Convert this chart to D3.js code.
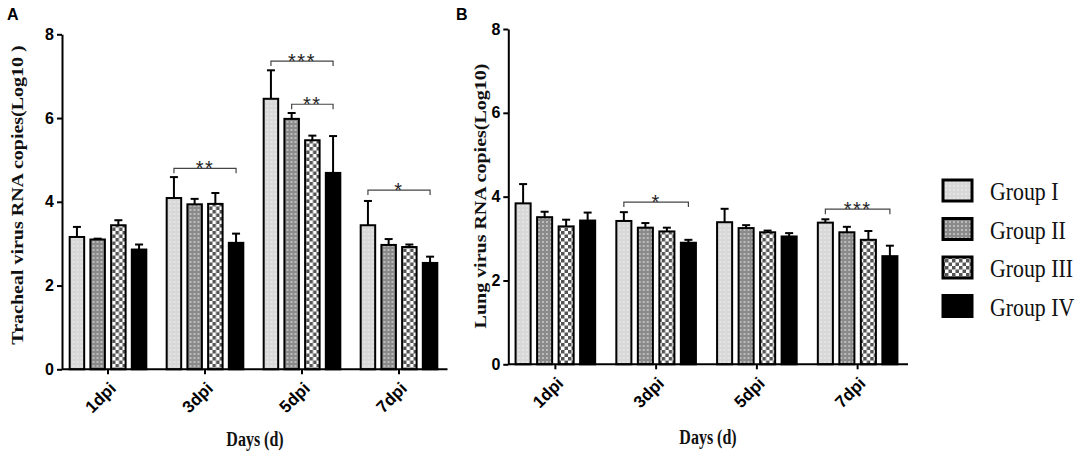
<!DOCTYPE html>
<html><head><meta charset="utf-8">
<script src="https://cdn.jsdelivr.net/npm/d3@7"></script>
<style>
body{margin:0;background:#fff;}
svg{display:block;}
</style></head>
<body>
<svg id="chart" width="1084" height="456"></svg>
<script>
const categories = ["1dpi","3dpi","5dpi","7dpi"];
const groups = ["Group I","Group II","Group III","Group IV"];
const yTicks = [0,2,4,6,8];

// means per category (rows) per group (cols)
const trachealMean = [
  [3.16,3.10,3.44,2.86],
  [4.09,3.94,3.95,3.02],
  [6.46,5.98,5.47,4.69],
  [3.44,2.97,2.92,2.54]
];
const trachealSD = [
  [0.24,0.02,0.12,0.12],
  [0.50,0.13,0.26,0.22],
  [0.68,0.14,0.11,0.88],
  [0.58,0.14,0.06,0.15]
];
const lungMean = [
  [3.84,3.51,3.29,3.43],
  [3.42,3.26,3.17,2.90],
  [3.39,3.25,3.15,3.05],
  [3.38,3.15,2.97,2.58]
];
const lungSD = [
  [0.46,0.13,0.16,0.19],
  [0.21,0.11,0.09,0.07],
  [0.32,0.07,0.04,0.08],
  [0.08,0.13,0.21,0.25]
];
const trachealSig = [
  {cat:"3dpi", from:0, to:3, y:4.80, label:"**"},
  {cat:"5dpi", from:0, to:3, y:7.36, label:"***"},
  {cat:"5dpi", from:1, to:3, y:6.33, label:"**"},
  {cat:"7dpi", from:0, to:3, y:4.28, label:"*"}
];
const lungSig = [
  {cat:"3dpi", from:0, to:3, y:3.87, label:"*"},
  {cat:"7dpi", from:0, to:3, y:3.70, label:"***"}
];

const svg = d3.select("#chart");
const defs = svg.append("defs");

// patterns
const p1 = defs.append("pattern").attr("id","pat0").attr("patternUnits","userSpaceOnUse").attr("width",4).attr("height",4);
p1.append("rect").attr("width",4).attr("height",4).attr("fill","#d8d8d8");
p1.append("circle").attr("cx",2).attr("cy",2).attr("r",0.8).attr("fill","#f4f4f4");
const p2 = defs.append("pattern").attr("id","pat1").attr("patternUnits","userSpaceOnUse").attr("width",4).attr("height",4);
p2.append("rect").attr("width",4).attr("height",4).attr("fill","#8a8a8a");
p2.append("circle").attr("cx",2).attr("cy",2).attr("r",0.9).attr("fill","#d4d4d4");
const p3 = defs.append("pattern").attr("id","pat2").attr("patternUnits","userSpaceOnUse").attr("width",7).attr("height",7);
p3.append("rect").attr("width",7).attr("height",7).attr("fill","#ffffff");
p3.append("rect").attr("x",0).attr("y",0).attr("width",3.5).attr("height",3.5).attr("fill","#555");
p3.append("rect").attr("x",3.5).attr("y",3.5).attr("width",3.5).attr("height",3.5).attr("fill","#555");
const fills = ["url(#pat0)","url(#pat1)","url(#pat2)","#000"];

function panel(cfg){
  const g = svg.append("g");
  const x0 = d3.scaleBand().domain(categories).range(cfg.xRange);
  const bw = x0.bandwidth();
  const x1 = d3.scaleBand().domain(groups).range([bw*0.105, bw*0.895]).paddingInner(0.3);
  const y = d3.scaleLinear().domain([0,8]).range(cfg.yRange);

  // bars
  const cg = g.selectAll("g.cat").data(categories).join("g")
    .attr("transform", c => `translate(${x0(c)},0)`);
  cg.each(function(c, ci){
    const sel = d3.select(this);
    const rows = groups.map((gr, gi) => ({gr, gi, m: cfg.mean[ci][gi], sd: cfg.sd[ci][gi]}));
    sel.selectAll("line.err").data(rows).join("line")
      .attr("x1", d => x1(d.gr)+x1.bandwidth()/2).attr("x2", d => x1(d.gr)+x1.bandwidth()/2)
      .attr("y1", d => y(d.m)).attr("y2", d => y(d.m+d.sd))
      .attr("stroke","#000").attr("stroke-width",2);
    sel.selectAll("line.cap").data(rows).join("line")
      .attr("x1", d => x1(d.gr)+x1.bandwidth()/2-4).attr("x2", d => x1(d.gr)+x1.bandwidth()/2+4)
      .attr("y1", d => y(d.m+d.sd)).attr("y2", d => y(d.m+d.sd))
      .attr("stroke","#000").attr("stroke-width",2);
    sel.selectAll("rect.bar").data(rows).join("rect")
      .attr("x", d => x1(d.gr)).attr("width", x1.bandwidth())
      .attr("y", d => y(d.m)).attr("height", d => y(0)-y(d.m))
      .attr("fill", d => fills[d.gi]).attr("stroke","#000").attr("stroke-width",2);
  });

  // significance brackets
  cfg.sig.forEach(s => {
    const xa = x0(s.cat) + x1(groups[s.from]) + x1.bandwidth()/2;
    const xb = x0(s.cat) + x1(groups[s.to]) + x1.bandwidth()/2;
    const yy = y(s.y);
    g.append("path").attr("d", `M${xa},${yy+5}V${yy}H${xb}V${yy+5}`)
      .attr("fill","none").attr("stroke","#444").attr("stroke-width",1.2);
    g.append("text").attr("x",(xa+xb)/2).attr("y",yy+6.5).attr("text-anchor","middle")
      .attr("font-family","Liberation Sans, Arial, sans-serif").attr("font-size",20)
      .attr("letter-spacing",1.5).attr("fill","#222").text(s.label);
  });

  // y axis
  const ya = g.append("g").attr("transform",`translate(${cfg.yAxisX},0)`)
    .call(d3.axisLeft(y).tickValues(yTicks).tickSize(5).tickSizeOuter(0).tickPadding(3));
  ya.select(".domain").attr("stroke","#000").attr("stroke-width",2);
  ya.selectAll(".tick line").attr("stroke","#000").attr("stroke-width",2);
  ya.selectAll(".tick text").attr("font-family","Liberation Sans, Arial, sans-serif")
    .attr("font-weight","bold").attr("font-size",16).attr("fill","#000");

  // x axis
  const xa = g.append("g").attr("transform",`translate(0,${cfg.yRange[0]})`)
    .call(d3.axisBottom(x0).tickSize(5).tickSizeOuter(0));
  xa.select(".domain").attr("d", `M${cfg.yAxisX},0H${cfg.xRange[1]}`).attr("stroke","#000").attr("stroke-width",2);
  xa.selectAll(".tick line").attr("stroke","#000").attr("stroke-width",2);
  xa.selectAll(".tick text")
    .attr("font-family","Liberation Sans, Arial, sans-serif").attr("font-weight","bold").attr("font-size",17)
    .attr("fill","#000").attr("text-anchor","end").attr("dy",null).attr("y",null)
    .attr("transform","translate(9,20) rotate(-45)");

  // panel letter
  g.append("text").attr("x",cfg.letterX).attr("y",20)
    .attr("font-family","Liberation Sans, Arial, sans-serif").attr("font-weight","bold").attr("font-size",16)
    .text(cfg.letter);

  // y label
  g.append("text").attr("transform",`translate(${cfg.yLabelX},${cfg.yLabelY}) rotate(-90) scale(1,0.85)`)
    .attr("text-anchor","middle").attr("dy","0.35em")
    .attr("font-family","Liberation Serif, Times New Roman, serif").attr("font-weight","bold").attr("font-size",20)
    .attr("fill","#111").text(cfg.yLabel);

  // x label
  g.append("text").attr("transform",`translate(${cfg.xLabelX},${cfg.xLabelY}) scale(0.8,1)`)
    .attr("text-anchor","middle")
    .attr("font-family","Liberation Serif, Times New Roman, serif").attr("font-weight","bold").attr("font-size",20)
    .attr("fill","#111").text("Days (d)");
}

panel({
  xRange:[59.5,447.5], yRange:[369.3,34.3], yAxisX:62,
  mean:trachealMean, sd:trachealSD, sig:trachealSig,
  letter:"A", letterX:7, yLabel:"Tracheal virus RNA copies(Log10 )", yLabelX:17, yLabelY:195,
  xLabelX:255, xLabelY:446
});
panel({
  xRange:[505,908], yRange:[364.3,29], yAxisX:508.3,
  mean:lungMean, sd:lungSD, sig:lungSig,
  letter:"B", letterX:456, yLabel:"Lung virus RNA copies(Log10)", yLabelX:480, yLabelY:196,
  xLabelX:708, xLabelY:444
});

// legend
const legend = svg.append("g");
groups.forEach((gr, i) => {
  const cy = 190.5 + i*38.5;
  legend.append("rect").attr("x",943).attr("y",cy-10.5).attr("width",29).attr("height",21)
    .attr("fill",fills[i]).attr("stroke","#000").attr("stroke-width",3);
  legend.append("text").attr("transform",`translate(990,${cy+9.5}) scale(0.84,1)`)
    .attr("font-family","Liberation Serif, Times New Roman, serif").attr("font-size",26)
    .attr("fill","#111").text(gr);
});
</script>
</body></html>
